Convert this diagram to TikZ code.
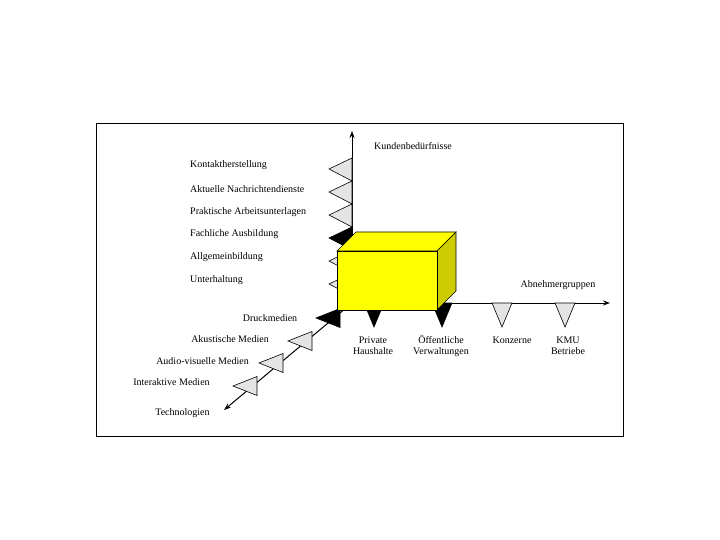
\documentclass[tikz,border=0pt]{standalone}
\usepackage{fontspec}
\setmainfont{Liberation Serif}
\usetikzlibrary{arrows.meta}
\definecolor{cubeyellow}{RGB}{255,255,0}
\definecolor{cubeside}{RGB}{204,204,0}
\definecolor{trigray}{RGB}{228,228,228}
\tikzset{
  axis/.style={line width=1bp,-{Stealth[length=7bp,width=5bp]}},
  tri/.style={draw=black,line width=0.6bp,fill=trigray,line join=miter},
  trib/.style={draw=black,line width=0.6bp,fill=black},
  lbl/.style={font=\fontsize{10bp}{11bp}\selectfont,inner sep=0pt},
  lblw/.style={lbl,anchor=west},
  lblc/.style={lbl,align=center},
  face/.style={draw=black,line width=0.6bp,line join=miter}
}
\begin{document}
\begin{tikzpicture}[x=1bp,y=-1bp]
\useasboundingbox (0,0) rectangle (720,540);
\fill[white] (0,0) rectangle (720,540);
\draw[line width=1bp] (96,124) rectangle (623,436);

% axes
\coordinate (O) at (352,303);
\coordinate (Ytop) at (352,131);
\coordinate (Xend) at (610,303);
\coordinate (Zend) at (224,410);
\draw[axis] (O) -- (Ytop);
\draw[axis] (O) -- (Xend);
\draw[axis] (O) -- (Zend);

% vertical axis triangles (pointing left)
\foreach \i/\s in {0/tri,1/tri,2/tri,3/trib,4/tri,5/tri}{
  \path[\s] (352,158+23*\i) -- (329,169+23*\i) -- (352,181+23*\i) -- cycle;
}
% horizontal axis triangles (pointing down)
\foreach \c/\s in {374/trib,442/trib,502/tri,565/tri}{
  \path[\s] (\c-10,303) -- (\c,327) -- (\c+10,303) -- cycle;
}
% diagonal axis triangles (pointing left)
\foreach \x/\y/\s in {340/318/trib,312/341/tri,283/363/tri,257/386/tri}{
  \path[\s] (\x,\y-9.5) -- (\x-24,\y) -- (\x,\y+9.5) -- cycle;
}

% cube
\path[face,fill=cubeyellow] (337,251) -- (356,232) -- (456,232) -- (437,251) -- cycle;
\path[face,fill=cubeside] (437,251) -- (456,232) -- (456,291) -- (437,310) -- cycle;
\path[face,fill=cubeyellow] (337,251) rectangle (437,310);

% labels
\node[lbl] (kb) at (413,146) {Kundenbedürfnisse};
\node[lbl] (ag) at (558,285) {Abnehmergruppen};
\node[lbl] (tech) at (182.5,413) {Technologien};

\node[lblw] (k1) at (190,165) {Kontaktherstellung};
\node[lblw] (k2) at (190,189) {Aktuelle Nachrichtendienste};
\node[lblw] (k3) at (190,212) {Praktische Arbeitsunterlagen};
\node[lblw] (k4) at (190,234) {Fachliche Ausbildung};
\node[lblw] (k5) at (190,257) {Allgemeinbildung};
\node[lblw] (k6) at (190,280) {Unterhaltung};

\node[lbl] (t1) at (270,318) {Druckmedien};
\node[lbl] (t2) at (230,339) {Akustische Medien};
\node[lbl] (t3) at (202.5,361) {Audio-visuelle Medien};
\node[lbl] (t4) at (171.5,382) {Interaktive Medien};

\node[lblc] (a1) at (373,346) {Private\\Haushalte};
\node[lblc] (a2) at (441,346) {Öffentliche\\Verwaltungen};
\node[lbl] (a3) at (512,340) {Konzerne};
\node[lblc] (a4) at (568,346) {KMU\\Betriebe};
\end{tikzpicture}
\end{document}
